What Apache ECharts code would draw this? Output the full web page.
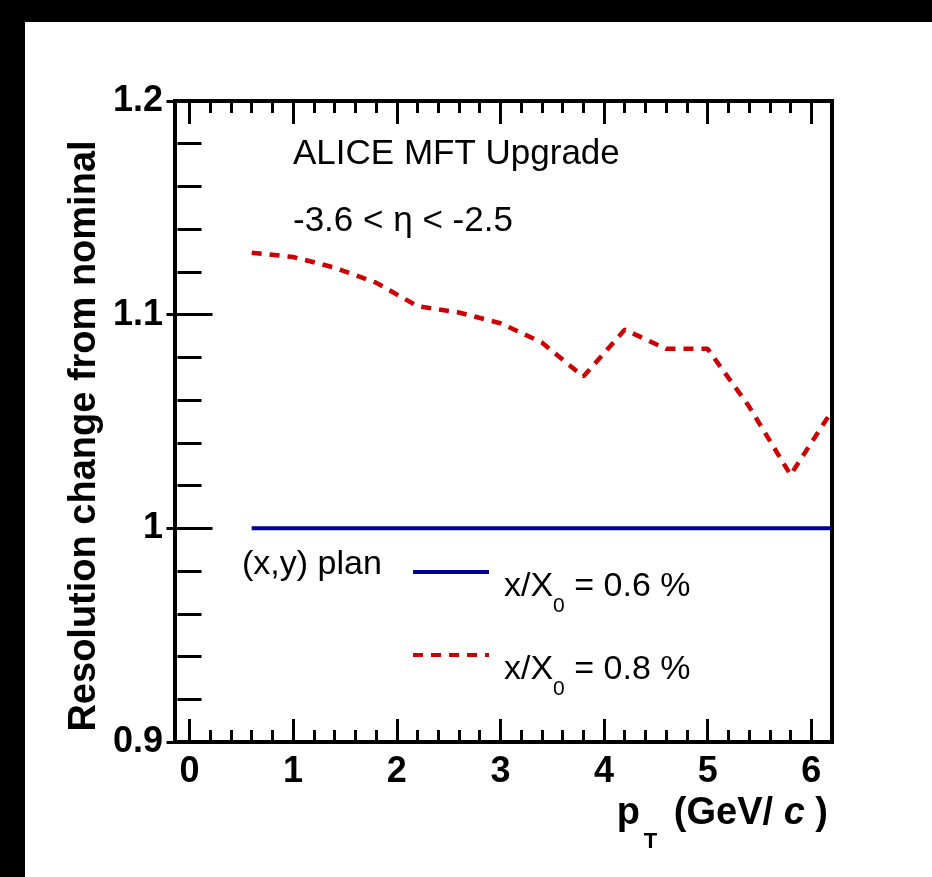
<!DOCTYPE html>
<html>
<head>
<meta charset="utf-8">
<script src="https://cdn.jsdelivr.net/npm/echarts@6/dist/echarts.min.js"></script>
<style>
  html, body { margin: 0; padding: 0; background: #fff; }
  #chart { width: 932px; height: 877px; }
</style>
</head>
<body>
<div id="chart"></div>
<script>
// data
const ptValues = [0.6, 1.0, 1.4, 1.8, 2.2, 2.6, 3.0, 3.4, 3.8, 4.2, 4.6, 5.0, 5.4, 5.8, 6.2]
const ratio06 = [1, 1, 1, 1, 1, 1, 1, 1, 1, 1, 1, 1, 1, 1, 1]
const ratio08 = [1.129, 1.127, 1.122, 1.115, 1.104, 1.101, 1.096, 1.087, 1.071, 1.093, 1.084, 1.084, 1.057, 1.025, 1.055]
const seriesNames = ['x/X0 = 0.6 %', 'x/X0 = 0.8 %']

const xTicks = [0, 1, 2, 3, 4, 5, 6]
const xTickLabels = ['0', '1', '2', '3', '4', '5', '6']
const yTicks = [0.9, 1.0, 1.1, 1.2]
const yTickLabels = ['0.9', '1', '1.1', '1.2']

const xMin = -0.14, xMax = 6.2
const yMin = 0.9, yMax = 1.2

const FONT = '"Liberation Sans", Arial, Helvetica, sans-serif'

// minor ticks, 5 divisions between majors
function minors(start, step, count) {
  const out = []
  for (let i = 1; i < count; i++) {
    if (i % 5 !== 0) out.push(+(start + i * step).toFixed(4))
  }
  return out
}
const xMinor = minors(0, 0.2, 31)
const yMinor = minors(0.9, 0.02, 15)

function tickStyle(len) {
  return { show: true, inside: true, length: len, lineStyle: { color: '#000', width: 3 } }
}

function xAxis(grid, pos, values, len, withLabels) {
  return {
    type: 'value', gridIndex: grid, position: pos, min: xMin, max: xMax,
    axisLine: { show: false }, splitLine: { show: false },
    axisTick: Object.assign(tickStyle(len), { customValues: values }),
    axisLabel: withLabels ? {
      customValues: xTicks, margin: 12, color: '#000',
      fontFamily: FONT, fontWeight: 'bold', fontSize: 36,
      formatter: v => xTickLabels[xTicks.indexOf(v)]
    } : { show: false }
  }
}

function yAxis(grid, pos, values, len, withLabels) {
  return {
    type: 'value', gridIndex: grid, position: pos, min: yMin, max: yMax,
    axisLine: { show: false }, splitLine: { show: false },
    axisTick: Object.assign(tickStyle(len), { customValues: values }),
    axisLabel: withLabels ? {
      customValues: yTicks, margin: 12, color: '#000',
      fontFamily: FONT, fontWeight: 'bold', fontSize: 36,
      formatter: v => yTickLabels[yTicks.findIndex(t => Math.abs(t - v) < 1e-6)]
    } : { show: false }
  }
}

const legendRich = {
  f: { fontFamily: FONT, fontSize: 34, color: '#000', padding: [30, 0, 0, 10] },
  m: { fontFamily: FONT, fontSize: 34, color: '#000', padding: [30, 0, 0, 0] },
  s: { fontFamily: FONT, fontSize: 21, color: '#000', padding: [68, 0, 0, 0] }
}
function legendText(name) {
  const rest = name.split('X0')[1]
  return '{f|x/X}{s|0}{m|' + rest + '}'
}
// itemHeight 4 keeps the legend's marker hidden under the 4px line
function legendBox(name, lineY) {
  return {
    data: [name], left: 411, top: lineY - 2, padding: 0, selectedMode: false,
    itemWidth: 76, itemHeight: 4, lineStyle: { width: 4 },
    formatter: legendText, textStyle: { rich: legendRich }
  }
}

const rect = { left: 175, right: 100, top: 101, bottom: 135 }

const chart = echarts.init(document.getElementById('chart'))
chart.setOption({
  animation: false,
  backgroundColor: '#fff',
  grid: [
    Object.assign({ show: true, borderColor: '#000', borderWidth: 4, backgroundColor: 'transparent' }, rect),
    Object.assign({ show: false }, rect)
  ],
  xAxis: [
    xAxis(0, 'bottom', xTicks, 23, true),
    xAxis(0, 'top', xTicks, 23, false),
    xAxis(1, 'bottom', xMinor, 12, false),
    xAxis(1, 'top', xMinor, 12, false)
  ],
  yAxis: [
    yAxis(0, 'left', yTicks, 23, true),
    yAxis(0, 'right', yTicks, 23, false),
    yAxis(1, 'left', yMinor, 12, false),
    yAxis(1, 'right', yMinor, 12, false)
  ],
  legend: [
    legendBox(seriesNames[0], 572),
    legendBox(seriesNames[1], 655)
  ],
  series: [
    {
      name: seriesNames[0], type: 'line', xAxisIndex: 0, yAxisIndex: 0,
      symbol: 'none', color: '#000099',
      lineStyle: { color: '#000099', width: 4 },
      data: ptValues.map((x, i) => [x, ratio06[i]])
    },
    {
      name: seriesNames[1], type: 'line', xAxisIndex: 0, yAxisIndex: 0,
      symbol: 'none', color: '#cc0000',
      lineStyle: { color: '#cc0000', width: 4.5, type: [10, 8] },
      data: ptValues.map((x, i) => [x, ratio08[i]])
    }
  ],
  graphic: [
    { type: 'rect', shape: { x: 0, y: 0, width: 25, height: 877 }, style: { fill: '#000' }, silent: true },
    { type: 'rect', shape: { x: 0, y: 0, width: 932, height: 22 }, style: { fill: '#000' }, silent: true },
    {
      type: 'text', x: 293, y: 154,
      style: { text: 'ALICE MFT Upgrade', font: '35px ' + FONT, fill: '#000', verticalAlign: 'middle' }
    },
    {
      type: 'text', x: 293, y: 221,
      style: { text: '-3.6 < η < -2.5', font: '35px ' + FONT, fill: '#000', verticalAlign: 'middle' }
    },
    {
      type: 'text', x: 242, y: 565,
      style: { text: '(x,y) plan', font: '34px ' + FONT, fill: '#000', verticalAlign: 'middle' }
    },
    {
      type: 'text', x: 85, y: 436, rotation: Math.PI / 2,
      style: {
        text: 'Resolution change from nominal', font: 'bold 38px ' + FONT,
        fill: '#000', align: 'center', verticalAlign: 'middle'
      }
    },
    {
      type: 'text', x: 828, y: 814,
      style: {
        text: '{m|p}{s|T}{m| (GeV/ }{i|c}{m| )}',
        align: 'right', verticalAlign: 'middle',
        rich: {
          m: { fontFamily: FONT, fontWeight: 'bold', fontSize: 38, fill: '#000' },
          i: { fontFamily: FONT, fontWeight: 'bold', fontStyle: 'italic', fontSize: 38, fill: '#000' },
          s: { fontFamily: FONT, fontWeight: 'bold', fontSize: 22, fill: '#000', padding: [56, 6, 0, 4] }
        }
      }
    }
  ]
})
</script>
</body>
</html>
